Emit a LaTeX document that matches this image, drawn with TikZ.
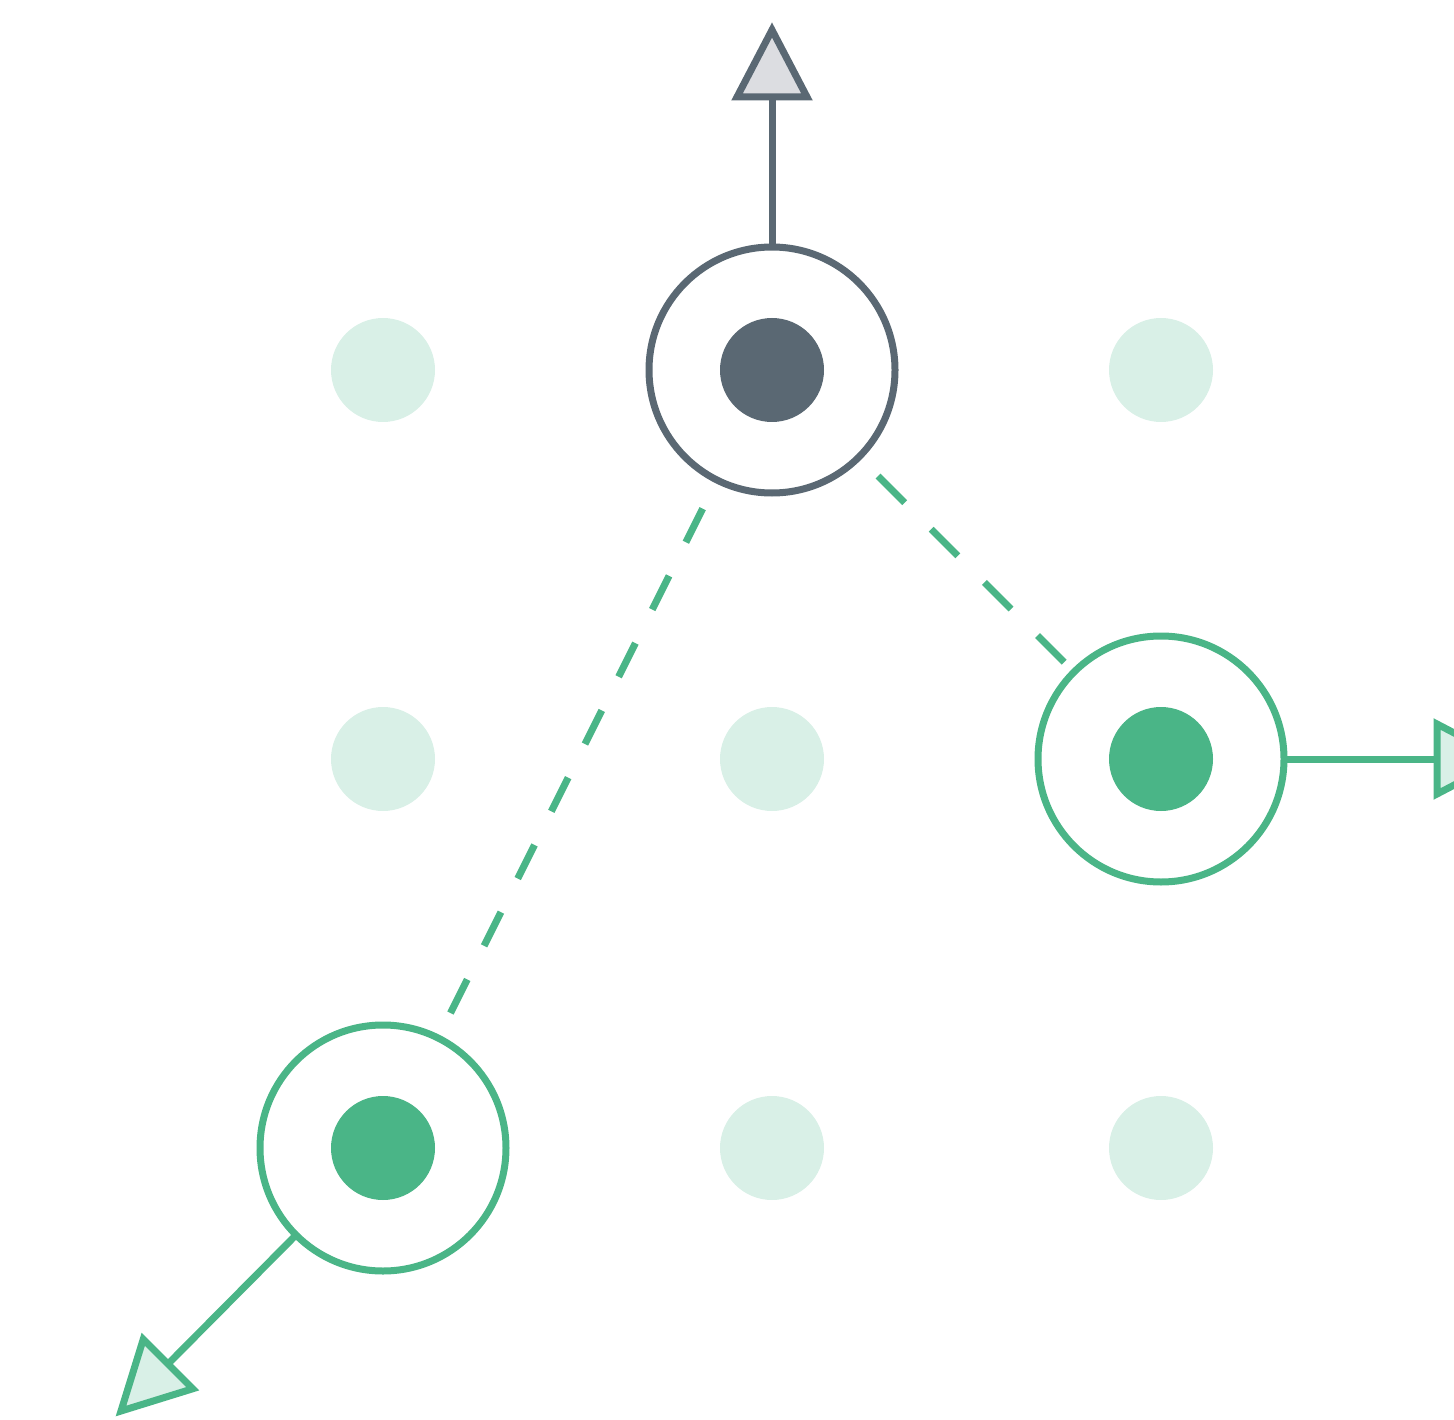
\documentclass[tikz,border=0pt]{standalone}
\usetikzlibrary{calc}
\definecolor{gr}{HTML}{4AB587}
\definecolor{ltg}{HTML}{D9F0E7}
\definecolor{dk}{HTML}{5A6873}
\definecolor{ltgray}{HTML}{DCDDE1}
\tikzset{
  faint/.style={circle,fill=ltg,minimum size=104pt,inner sep=0pt,outer sep=0pt},
  core/.style={circle,minimum size=104pt,inner sep=0pt,outer sep=0pt},
  ring/.style={circle,draw,fill=white,line width=7pt,minimum size=246pt,inner sep=0pt,outer sep=0pt},
  link/.style={line width=7pt},
  tip/.style={line width=7pt,line join=miter},
  gdash/.style={draw=gr,line width=7pt,dash pattern=on 37.6pt off 37.6pt}
}
\begin{document}
\begin{tikzpicture}[x=1pt,y=-1pt]
\useasboundingbox (0,0) rectangle (1454,1420);
\clip (0,0) rectangle (1454,1420);
% faint grid dots
\node[faint] (d11) at (383,370) {};
\node[faint] (d13) at (1161,370) {};
\node[faint] (d21) at (383,759) {};
\node[faint] (d22) at (772,759) {};
\node[faint] (d32) at (772,1148) {};
\node[faint] (d33) at (1161,1148) {};
% rings
\node[ring,draw=dk] (r1) at (772,370) {};
\node[core,fill=dk] (c1) at (772,370) {};
\node[ring,draw=gr] (r2) at (1161,759) {};
\node[core,fill=gr] (c2) at (1161,759) {};
\node[ring,draw=gr] (r3) at (383,1148) {};
\node[core,fill=gr] (c3) at (383,1148) {};
% arrow bases and tips
\coordinate (b1) at (772,97);   \coordinate (t1) at (772,30);
\coordinate (b2) at (1437,759); \coordinate (t2) at (1504,759);
\coordinate (b3) at (168,1364); \coordinate (t3) at (121,1411);
\draw[link,draw=dk] (r1.north) -- (b1);
\draw[link,draw=gr] (r2.east) -- (b2);
\draw[link,draw=gr] (r3.225) -- (b3);
\filldraw[tip,draw=dk,fill=ltgray] (t1) -- ($(b1)!35pt!90:(t1)$) -- ($(b1)!35pt!-90:(t1)$) -- cycle;
\filldraw[tip,draw=gr,fill=ltg] (t2) -- ($(b2)!35pt!90:(t2)$) -- ($(b2)!35pt!-90:(t2)$) -- cycle;
\filldraw[tip,draw=gr,fill=ltg] (t3) -- ($(b3)!35pt!90:(t3)$) -- ($(b3)!35pt!-90:(t3)$) -- cycle;
% dashed links
\draw[gdash] ($(r1.center)!155pt!(r3.center)$) -- ($(r3.center)!149pt!(r1.center)$);
\draw[gdash] ($(r1.center)!150pt!(r2.center)$) -- ($(r2.center)!137pt!(r1.center)$);
\end{tikzpicture}
\end{document}
